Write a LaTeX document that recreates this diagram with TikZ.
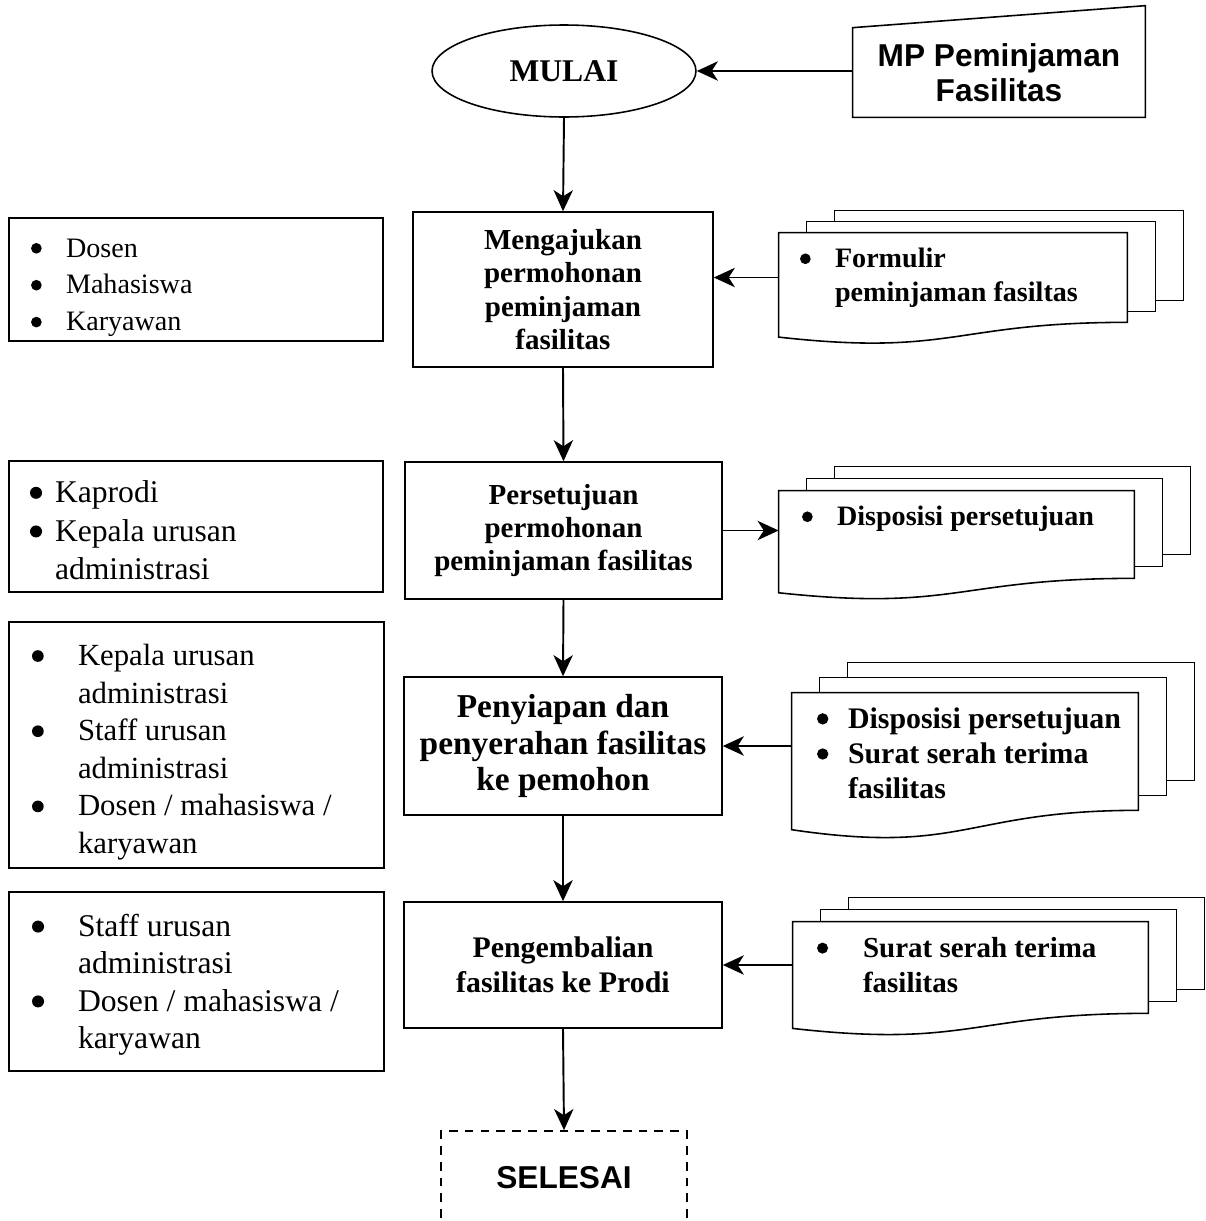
\documentclass[tikz,border=0pt]{standalone}
\usepackage{fontspec}
\setmainfont{Liberation Serif}
\setsansfont{Liberation Sans}
\usetikzlibrary{arrows.meta, shapes.geometric, positioning, calc}

\newcommand{\fs}[2]{\fontsize{#1}{#2}\selectfont}
\newcommand{\blt}{\tikz[baseline=-0.31em]\fill (0,0) circle (0.19em);}
% front sheet is node #1, two sheets behind it shifted by #2 / #3
\newcommand{\docstack}[3]{%
  \draw[sheet] ($(#1.north west)+(#2,0)$) -- ++(0,-#3) -| ($(#1.south east)+(#2,-#3)$) -- ($(#1.south east)+(0,-#3)$);
  \draw[sheet] ($(#1.north west)+(2*#2,-#3)$) -- ++(0,-#3) -| ($(#1.south east)+(2*#2,-2*#3)$) -- ($(#1.south east)+(#2,-2*#3)$);
  \draw[sheet] (#1.north west) -- (#1.north east) -- (#1.south east)
    .. controls (#1.south) and ($(#1.north)!1.3815!(#1.south)$) .. ($(#1.north west)!1.1646!(#1.south west)$) -- cycle;
}

\begin{document}
\begin{tikzpicture}[x=0.02cm, y=-0.02cm,
    proc/.style={draw, line width=0.9pt, inner sep=0pt, align=center, font=\bfseries\fs{16.5}{19}},
    who/.style={draw, line width=0.9pt, inner ysep=0pt, font=\fs{16}{21}},
    docshape/.style={inner sep=0pt},
    doctext/.style={anchor=north west, inner ysep=0.21cm, font=\bfseries\fs{16}{19.5}},
    sheet/.style={line width=0.9pt},
    flow/.style={-{Stealth[length=12pt, width=11pt, inset=3.5pt]}, line width=1.1pt}]
  \useasboundingbox (0,0) rectangle (1206,1221);
  \clip (0,0) rectangle (1206,1221);

  % start and source
  \node[draw, ellipse, line width=0.9pt, inner sep=0pt, minimum width=5.28cm, minimum height=1.84cm, font=\bfseries\fs{18}{20}] (start) at (564,71) {MULAI};
  \node[inner sep=0pt, minimum width=5.84cm, minimum height=1.78cm, align=center, font=\sffamily\bfseries\fs{18}{20}] (mp) at (999,72.5) {MP Peminjaman\\Fasilitas};
  \draw[sheet] (mp.south west) -- (mp.south east) -- ($(mp.north east)+(0,-22)$) -- (mp.north west) -- cycle;

  % process steps
  \node[proc, minimum width=6cm, minimum height=3.1cm] (ask) at (563,289.5) {Mengajukan\\permohonan\\peminjaman\\fasilitas};
  \node[proc, minimum width=6.34cm, minimum height=2.74cm] (approve) at (563.5,530.5) {Persetujuan\\permohonan\\peminjaman fasilitas};
  \node[proc, minimum width=6.36cm, minimum height=2.76cm, font=\bfseries\fs{19}{21}] (prepare) at (563,746) {Penyiapan dan\\penyerahan fasilitas\\ke pemohon};
  \node[proc, minimum width=6.36cm, minimum height=2.52cm, font=\bfseries\fs{17}{20}] (giveback) at (563,965) {Pengembalian\\fasilitas ke Prodi};
  \node[draw, dash pattern=on 5pt off 4pt, line width=1pt, inner sep=0pt, minimum width=4.92cm, minimum height=1.88cm, font=\sffamily\bfseries\fs{18}{20}] (finish) at (564,1178) {SELESAI};

  % who is involved
  \node[who, inner xsep=0.44cm, minimum height=2.46cm] (who1) at (196,279.5) {\begin{tabular}{@{}p{0.7cm}@{}p{5.9cm}@{}}
    \blt & Dosen\\ \blt & Mahasiswa\\ \blt & Karyawan\\[-8pt]\end{tabular}};
  \node[who, inner xsep=0.42cm, minimum height=2.62cm, font=\fs{18}{22}] (who2) at (196,526.5) {\begin{tabular}{@{}p{0.5cm}@{}p{6.14cm}@{}}
    \blt & Kaprodi\\ \blt & Kepala urusan\\ & administrasi\\[-8pt]\end{tabular}};
  \node[who, inner xsep=0.46cm, minimum height=4.92cm, font=\fs{17.5}{21.4}] (who3) at (196.5,745) {\begin{tabular}{@{}p{0.92cm}@{}p{5.66cm}@{}}
    \blt & Kepala urusan\\ & administrasi\\ \blt & Staff urusan\\ & administrasi\\ \blt & Dosen / mahasiswa /\\ & karyawan\\[-8pt]\end{tabular}};
  \node[who, inner xsep=0.46cm, minimum height=3.58cm, font=\fs{18}{21.3}] (who4) at (196.5,981.5) {\begin{tabular}{@{}p{0.92cm}@{}p{5.66cm}@{}}
    \blt & Staff urusan\\ & administrasi\\ \blt & Dosen / mahasiswa /\\ & karyawan\\[-4pt]\end{tabular}};

  % documents
  \node[docshape, minimum width=6.96cm, minimum height=1.78cm] (form) at (953,277.5) {};
  \node[doctext, inner xsep=0.42cm] (formtxt) at (form.north west) {\begin{tabular}{@{}p{0.7cm}@{}l@{}}
    \blt & Formulir\\ & peminjaman fasiltas\end{tabular}};
  \docstack{form}{28}{11}
  \node[docshape, minimum width=7.1cm, minimum height=1.74cm] (dispo) at (956.5,534.5) {};
  \node[doctext, inner xsep=0.46cm] (dispotxt) at (dispo.north west) {\begin{tabular}{@{}p{0.7cm}@{}l@{}}
    \blt & Disposisi persetujuan\end{tabular}};
  \docstack{dispo}{28}{12}
  \node[docshape, minimum width=6.92cm, minimum height=2.34cm] (handover) at (965,751.5) {};
  \node[doctext, inner xsep=0.5cm, font=\bfseries\fs{17}{20}] (handovertxt) at (handover.north west) {\begin{tabular}{@{}p{0.62cm}@{}l@{}}
    \blt & Disposisi persetujuan\\ \blt & Surat serah terima\\ & fasilitas\end{tabular}};
  \docstack{handover}{28}{15}
  \node[docshape, minimum width=7.1cm, minimum height=1.82cm] (receipt) at (970.5,967.5) {};
  \node[doctext, inner xsep=0.48cm, font=\bfseries\fs{16.5}{20}] (receipttxt) at (receipt.north west) {\begin{tabular}{@{}p{0.92cm}@{}l@{}}
    \blt & Surat serah terima\\ & fasilitas\end{tabular}};
  \docstack{receipt}{28}{12}

  % connectors
  \draw[flow] (mp.west |- start.east) -- (start.east);
  \draw[flow] (start.south) -- (ask.north);
  \draw[flow] (form.west) -- (form.west -| ask.east);
  \draw[flow] (ask.south) -- (approve.north);
  \draw[flow] (approve.east) -- (approve.east -| dispo.west);
  \draw[flow] (approve.south) -- (prepare.north);
  \draw[flow] (handover.west |- prepare.east) -- (prepare.east);
  \draw[flow] (prepare.south) -- (giveback.north);
  \draw[flow] (receipt.west |- giveback.east) -- (giveback.east);
  \draw[flow] (giveback.south) -- (finish.north);
\end{tikzpicture}
\end{document}
